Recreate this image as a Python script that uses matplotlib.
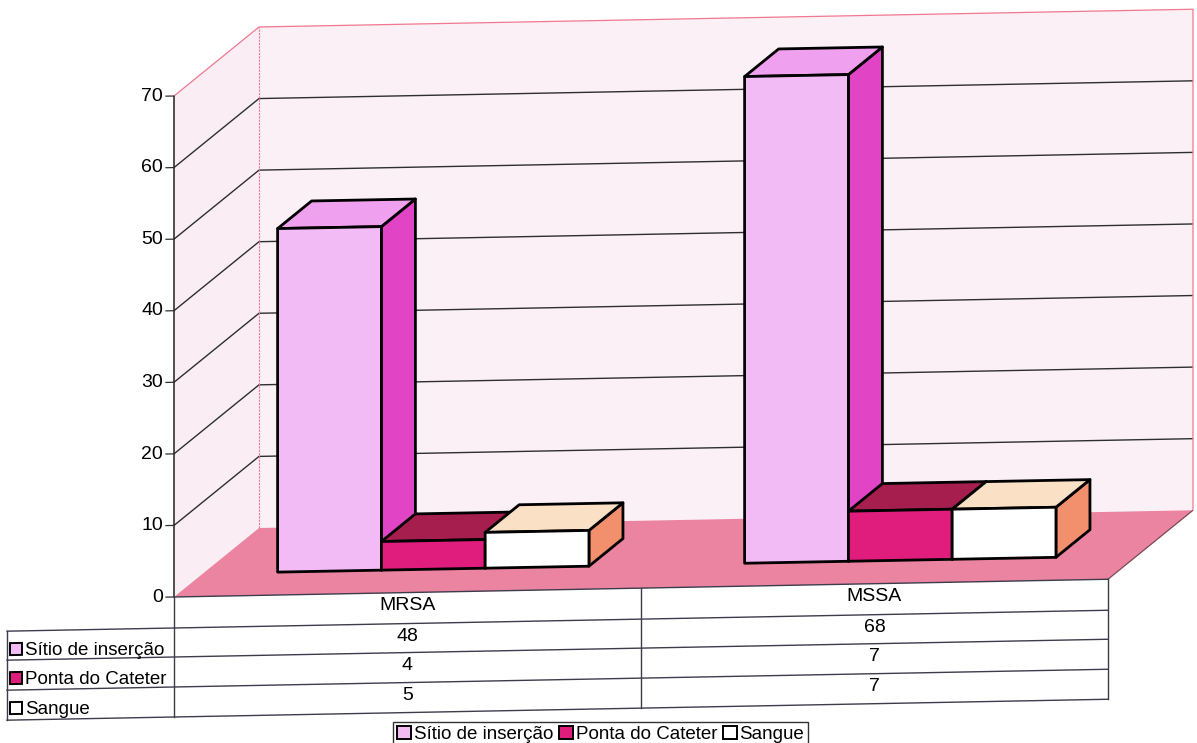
import numpy as np
import matplotlib
matplotlib.use("Agg")
import matplotlib.pyplot as plt
from matplotlib.patches import Polygon, Rectangle, Patch
from matplotlib.transforms import Affine2D

plt.rcParams['font.family'] = ['Liberation Sans', 'DejaVu Sans']

# dados
categorias = ["MRSA", "MSSA"]
series = ["Sítio de inserção", "Ponta do Cateter", "Sangue"]
sitio = [48, 68]
ponta = [4, 7]
sangue = [5, 7]
valores = [sitio, ponta, sangue]
y_ticks = [0, 10, 20, 30, 40, 50, 60, 70]

cores_frente = ["#F3BBF6", "#E01C7C", "#FFFFFF"]
cores_topo = ["#EFA0EE", "#A51E4E", "#FAE0C4"]
cores_lado = ["#E244C6", "#C81868", "#F2906E"]

# geometria da figura (pixels)
W, H = 1197, 743
X0, Y0 = 174, 597
CAT = 467.0
VAL = (597 - 96) / 70.0
PROF_X = 85 / CAT
PROF_Y = 67.4 / VAL
INCL = 0.019
D1, D2 = 0.34, 0.74
FS = 14

fig = plt.figure(figsize=(W / 100, H / 100), dpi=100)
ax = fig.add_axes([0, 0, 1, 1])
ax.set_xlim(-X0 / CAT, (W - X0) / CAT)
ax.set_ylim(-(H - Y0) / VAL, Y0 / VAL)
ax.axis("off")

# leve inclinacao do scan
skew = Affine2D(np.array([[1, 0, 0], [INCL, 1, -INCL * X0], [0, 0, 1]]))
tr = ax.transData + skew


def p3(x, v, d):
    return (x + d * PROF_X, v + d * PROF_Y)


def face(pts, cor, z, lw=2.0, ec="black"):
    ax.add_patch(Polygon([p3(*q) for q in pts], closed=True, facecolor=cor,
                         edgecolor=ec, lw=lw, joinstyle="round", transform=tr, zorder=z))


def linha(pts, cor, lw, z, ls="-"):
    xy = np.array([p3(*q) for q in pts])
    ax.plot(xy[:, 0], xy[:, 1], color=cor, lw=lw, ls=ls, transform=tr, zorder=z,
            solid_capstyle="butt")


n = len(categorias)
vmax = y_ticks[-1]

# paredes e piso
face([(0, 0, 1), (n, 0, 1), (n, vmax, 1), (0, vmax, 1)], "#FBF0F6", 1, lw=0, ec="none")
face([(0, 0, 0), (0, 0, 1), (0, vmax, 1), (0, vmax, 0)], "#FAEEF4", 1, lw=0, ec="none")
face([(0, 0, 0), (n, 0, 0), (n, 0, 1), (0, 0, 1)], "#EB84A0", 2, lw=0, ec="none")

for v in y_ticks[1:-1]:
    linha([(0, v, 0), (0, v, 1), (n, v, 1)], "#2E2E2E", 1.0, 3)
linha([(0, vmax, 0), (0, vmax, 1), (n, vmax, 1), (n, 0, 1)], "#F07890", 0.9, 3)
linha([(0, 0, 1), (0, vmax, 1)], "#F07890", 0.8, 3, ls=(0, (2, 1)))
linha([(n, 0, 0), (n, 0, 1)], "#7A4A55", 0.9, 3)

# eixo y
linha([(0, 0, 0), (0, vmax, 0)], "#202020", 1.1, 4)
tick = 8 / CAT
for v in y_ticks:
    ax.plot([-tick, 0], [v, v], color="#303030", lw=0.9, transform=tr, zorder=4)
    ax.text(-11 / CAT, v, str(v), ha="right", va="center", fontsize=FS,
            transform=tr, zorder=4)

# barras 3D
w = 1 / (len(series) + 1.5)
z = 10
for i in range(n):
    for j, vals in enumerate(valores):
        v = vals[i]
        xl = i + 0.72 * w + j * w
        xr = xl + w
        face([(xr, 0, D1), (xr, 0, D2), (xr, v, D2), (xr, v, D1)], cores_lado[j], z)
        face([(xl, v, D1), (xr, v, D1), (xr, v, D2), (xl, v, D2)], cores_topo[j], z + 1)
        face([(xl, 0, D1), (xr, 0, D1), (xr, v, D1), (xl, v, D1)], cores_frente[j], z + 2)
        z += 3

# tabela de dados (coordenadas em pixels)
ax2 = fig.add_axes([0, 0, 1, 1])
ax2.set_xlim(0, W)
ax2.set_ylim(H, 0)
ax2.axis("off")
ax2.patch.set_visible(False)
tr2 = ax2.transData + skew

linhas_tab = [597, 628, 657, 687, 717]
cols = [X0 + c * CAT for c in range(n + 1)]
x_lab = 7
cor_tab = "#3C3C4C"

for k, yy in enumerate(linhas_tab):
    x_ini = x_lab if k > 0 else X0
    ax2.plot([x_ini, cols[-1]], [yy, yy], color=cor_tab, lw=1.0, transform=tr2)
for xx in cols:
    ax2.plot([xx, xx], [linhas_tab[0], linhas_tab[-1]], color=cor_tab, lw=1.0, transform=tr2)
ax2.plot([x_lab, x_lab], [linhas_tab[1], linhas_tab[-1]], color=cor_tab, lw=1.0, transform=tr2)

for c, nome in enumerate(categorias):
    xc = (cols[c] + cols[c + 1]) / 2
    ax2.text(xc, linhas_tab[0] + 17, nome, ha="center", va="baseline", fontsize=FS, transform=tr2)
    for j, vals in enumerate(valores):
        ax2.text(xc, linhas_tab[j + 1] + 17, str(vals[c]), ha="center", va="baseline",
                 fontsize=FS, transform=tr2)

for j, nome in enumerate(series):
    base = linhas_tab[j + 1] + 24
    ax2.add_patch(Rectangle((10, base - 12), 12, 12, facecolor=cores_frente[j],
                            edgecolor="black", lw=1.4, transform=tr2))
    ax2.text(25, base, nome, ha="left", va="baseline", fontsize=FS - 0.5, transform=tr2)

# legenda
handles = [Patch(facecolor=cores_frente[j], edgecolor="black", lw=1.4) for j in range(3)]
leg = fig.legend(handles, series, loc="upper left", bbox_to_anchor=(393 / W, 1 - 722 / H),
                 ncol=3, fontsize=FS - 0.5, frameon=True, fancybox=False, borderpad=0.2,
                 handlelength=0.75, handleheight=0.75, handletextpad=0.15,
                 columnspacing=0.3, borderaxespad=0)
leg.get_frame().set_edgecolor("black")
leg.get_frame().set_linewidth(1.0)

fig.savefig("out.png", dpi=100, facecolor="white")
